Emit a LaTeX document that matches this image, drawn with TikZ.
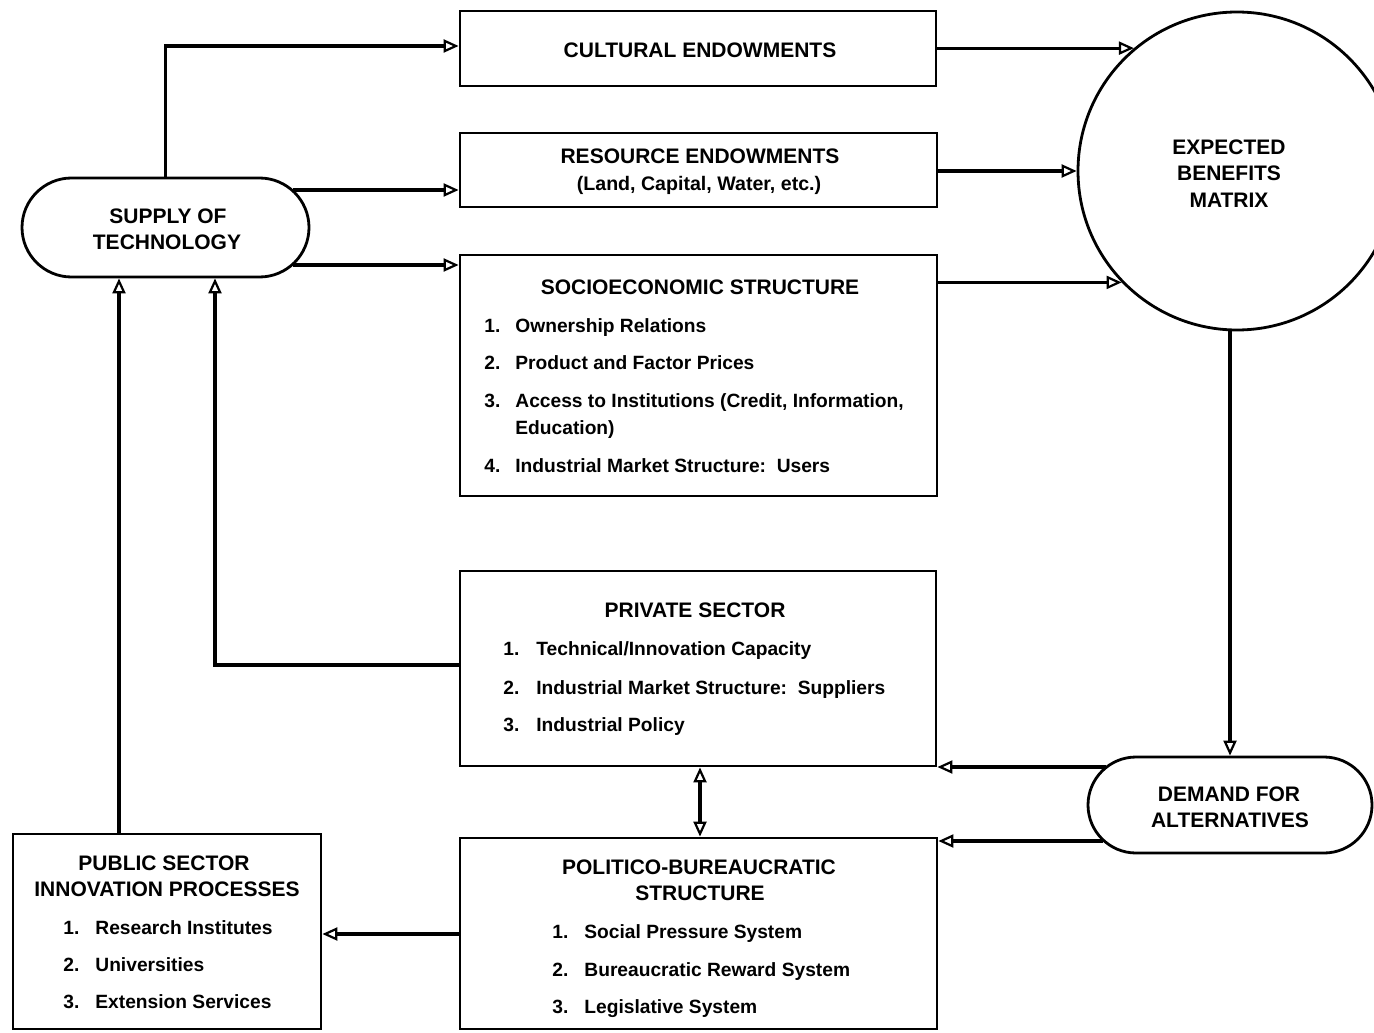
\documentclass[tikz,border=0pt]{standalone}
\usepackage{fontspec}
\setmainfont{Liberation Sans}
\usetikzlibrary{arrows.meta,fit,calc}
\begin{document}
\begin{tikzpicture}[x=0.5pt,y=-0.5pt,
  box/.style={draw,line width=1.4pt,inner sep=0pt},
  pill/.style={draw,line width=1.4pt,inner sep=0pt,rounded corners=#1},
  conn/.style={line width=1.6pt},
  >={Triangle[open,length=7.5pt,width=6.5pt,line width=1.1pt]},
  ttl/.style={font=\fontsize{10.5}{13}\selectfont\bfseries,inner sep=0pt,anchor=mid,yshift=-1pt},
  itm/.style={font=\fontsize{9.6}{12}\selectfont\bfseries,inner sep=0pt,anchor=mid west,yshift=-1pt},
]
\path[use as bounding box,fill=white] (0,0) rectangle (1374,1032);
\clip (0,0) rectangle (1374,1032);

% boxes
\node (cult) [box,fit={(460,11) (936,86)}] {};
\node (res)  [box,fit={(460,133) (937,207)}] {};
\node (soc)  [box,fit={(460,255) (937,496)}] {};
\node (priv) [box,fit={(460,571) (936,766)}] {};
\node (pol)  [box,fit={(460,838) (937,1029)}] {};
\node (pub)  [box,fit={(13,834) (321,1029)}] {};
\node (sup)  [pill=24.75pt,fit={(22,178) (309,277)}] {};
\node (dem)  [pill=24pt,fit={(1088,757) (1372,853)}] {};
\node (ebm)  [draw,line width=1.4pt,circle,inner sep=0pt,minimum size=159pt] at (1237,171) {};

% texts
\node (tcult) [ttl] at (700,50) {CULTURAL ENDOWMENTS};
\node (tres1) [ttl] at (700,156) {RESOURCE ENDOWMENTS};
\node (tres2) [ttl,font=\fontsize{9.8}{12}\selectfont\bfseries] at (699,183) {(Land, Capital, Water, etc.)};

\node (tsoc) [ttl] at (700,287) {SOCIOECONOMIC STRUCTURE};
\node (ns1) [itm] at (484,325) {1.};
\node (ts1) [itm] at (515,325) {Ownership Relations};
\node (ns2) [itm] at (484,362) {2.};
\node (ts2) [itm] at (515,362) {Product and Factor Prices};
\node (ns3) [itm] at (484,400) {3.};
\node (ts3) [itm] at (515,400) {Access to Institutions (Credit, Information,};
\node (ts3b) [itm] at (515,427) {Education)};
\node (ns4) [itm] at (484,465) {4.};
\node (ts4) [itm] at (515,465) {Industrial Market Structure:\ \ Users};

\node (tpriv) [ttl] at (695,610) {PRIVATE SECTOR};
\node (np1) [itm] at (503,648) {1.};
\node (tp1) [itm] at (536,648) {Technical/Innovation Capacity};
\node (np2) [itm] at (503,687) {2.};
\node (tp2) [itm] at (536,687) {Industrial Market Structure:\ \ Suppliers};
\node (np3) [itm] at (503,724) {3.};
\node (tp3) [itm] at (536,724) {Industrial Policy};

\node (tpol1) [ttl] at (699,867) {POLITICO-BUREAUCRATIC};
\node (tpol2) [ttl] at (700,893) {STRUCTURE};
\node (nb1) [itm] at (552,931) {1.};
\node (tb1) [itm] at (584,931) {Social Pressure System};
\node (nb2) [itm] at (552,969) {2.};
\node (tb2) [itm] at (584,969) {Bureaucratic Reward System};
\node (nb3) [itm] at (552,1006) {3.};
\node (tb3) [itm] at (584,1006) {Legislative System};

\node (tpub1) [ttl] at (164,863) {PUBLIC SECTOR};
\node (tpub2) [ttl] at (167,889) {INNOVATION PROCESSES};
\node (nu1) [itm] at (63,927) {1.};
\node (tu1) [itm] at (95,927) {Research Institutes};
\node (nu2) [itm] at (63,964) {2.};
\node (tu2) [itm] at (95,964) {Universities};
\node (nu3) [itm] at (63,1001) {3.};
\node (tu3) [itm] at (95,1001) {Extension Services};

\node (tsup1) [ttl] at (168,216) {SUPPLY OF};
\node (tsup2) [ttl] at (167,242) {TECHNOLOGY};

\node (tdem1) [ttl] at (1229,794) {DEMAND FOR};
\node (tdem2) [ttl] at (1230,820) {ALTERNATIVES};

\node (tebm1) [ttl] at (1229,147) {EXPECTED};
\node (tebm2) [ttl] at (1229,173) {BENEFITS};
\node (tebm3) [ttl] at (1229,200) {MATRIX};

% connectors
\draw[conn,->] (sup.north) |- (cult.west |- 0,46);
\draw[conn,->] ($(sup.east |- 0,190)+(-17,0)$) -- (res.west |- 0,190);
\draw[conn,->] ($(sup.east |- 0,265)+(-17,0)$) -- (soc.west |- 0,265);

\draw[conn,->] (cult.east |- ebm.130) -- (ebm.130);
\draw[conn,->] (res.east |- ebm.west) -- (ebm.west);
\draw[conn,->] (soc.east |- ebm.224) -- (ebm.224);

\draw[conn,->] (ebm.south -| dem.north) -- (dem.north);
\draw[conn,->] ($(dem.west |- 0,767)+(19,0)$) -- (priv.east |- 0,767);
\draw[conn,->] ($(dem.west |- 0,841)+(16,0)$) -- (pol.east |- 0,841);

\draw[conn,<->] (priv.south -| 700,0) -- (pol.north -| 700,0);
\draw[conn,->] (pol.west |- 0,934) -- (pub.east |- 0,934);

\draw[conn,->] (pub.north -| 119,0) -- (sup.south -| 119,0);
\draw[conn,->] (priv.west |- 0,665) -| (sup.south -| 215,0);
\end{tikzpicture}
\end{document}
